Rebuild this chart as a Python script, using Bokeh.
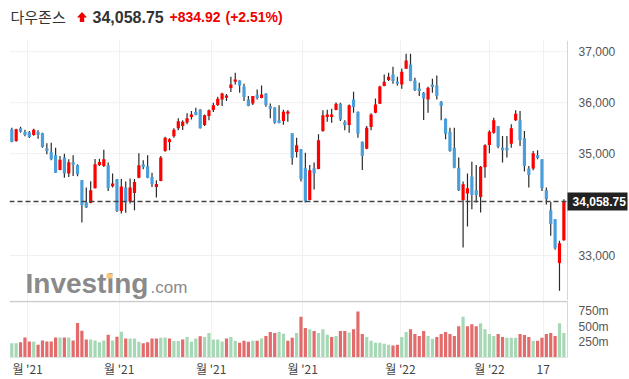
from bokeh.plotting import figure
from bokeh.layouts import column
from bokeh.models import (Range1d, FixedTicker, NumeralTickFormatter, Label,
                          BoxAnnotation, ColumnDataSource, LinearAxis)
from bokeh.core.properties import value
from bokeh.embed import file_html
from bokeh.resources import INLINE

# ---------------- data ----------------
title_name = "다우존스"
last_price = 34058.75
last_price_text = "34,058.75"
change_text = "+834.92"
change_pct_text = "(+2.51%)"

opens = [35477, 35248, 35497, 35425, 35418, 35366, 35425, 35399, 35105, 35039,
         34967, 34680, 34922, 34608, 34830, 34771, 34477, 34046, 34033, 34320,
         34778, 34758, 34771, 34359, 34497, 33876, 34333, 34059, 34229, 34529,
         34791, 34752, 34542, 34346, 34464, 35052, 35229, 35340, 35497, 35542,
         35614, 35719, 35817, 35869, 35562, 35739, 35856, 35954, 36065, 36098,
         36288, 36412, 36438, 36320, 36065, 35987, 36150, 36092, 36183, 35935,
         35908, 35654, 35640, 35784, 35399, 35033, 35085, 34712, 34091, 34712,
         34699, 35444, 35719, 35719, 35856, 35980, 35627, 35562, 36065, 35824,
         35235, 35098, 35523, 35804, 35980, 36327, 36444, 36556, 36418, 36359,
         36667, 36752, 36438, 36281, 36196, 36065, 36359, 36340, 36020, 35686,
         35431, 35118, 34725, 34085, 34216, 34549, 34281, 34150, 34732, 35170,
         35412, 35542, 35118, 35118, 35196, 35654, 35654, 35301, 34706, 34706,
         34967, 34889, 34281, 33889, 33712, 32850, 33301]
highs = [35510, 35490, 35530, 35470, 35444, 35490, 35458, 35412, 35203, 35216,
         35118, 34954, 35000, 34889, 34967, 34791, 34480, 34333, 34458, 34895,
         34902, 35078, 34824, 34608, 34500, 34503, 34451, 34510, 34503, 35007,
         34869, 34967, 34627, 34477, 34954, 35333, 35301, 35497, 35693, 35654,
         35791, 35837, 35900, 35872, 35771, 35869, 36000, 36118, 36196, 36170,
         36510, 36588, 36440, 36372, 36131, 36131, 36261, 36340, 36185, 35987,
         35910, 35948, 35863, 35850, 35400, 35314, 35090, 35020, 34778, 34824,
         35379, 35850, 35863, 35882, 36006, 36000, 35654, 35967, 36216, 35826,
         35237, 35542, 35791, 36085, 36333, 36556, 36588, 36706, 36510, 36673,
         36961, 36961, 36490, 36392, 36209, 36314, 36471, 36536, 36033, 35690,
         35510, 35510, 34922, 34451, 34608, 34843, 34778, 34758, 35183, 35458,
         35706, 35545, 35346, 35346, 35575, 35850, 35837, 35444, 34758, 35052,
         35065, 34890, 34333, 34052, 33714, 33288, 34105]
lows = [35225, 35235, 35412, 35340, 35307, 35353, 35294, 35118, 34987, 34869,
        34620, 34673, 34529, 34543, 34562, 34556, 33647, 33935, 34025, 34315,
        34758, 34739, 34268, 34333, 33856, 33824, 33837, 34020, 33889, 34516,
        34693, 34516, 34346, 34137, 34460, 35039, 35065, 35314, 35458, 35464,
        35575, 35673, 35752, 35495, 35542, 35654, 35817, 35935, 35935, 36033,
        36209, 36359, 36196, 36033, 35930, 35954, 36065, 36090, 35922, 35693,
        35588, 35598, 35569, 35627, 34784, 34922, 34451, 34039, 34085, 34294,
        34695, 35431, 35627, 35608, 35852, 35640, 35458, 35412, 35804, 35314,
        34680, 35085, 35458, 35791, 35975, 36325, 36425, 36373, 36340, 36275,
        36665, 36420, 36229, 36131, 35660, 35804, 36196, 36065, 35654, 35281,
        35039, 34712, 34268, 33157, 33569, 33908, 34039, 33843, 34529, 35007,
        35392, 35105, 34824, 34922, 35118, 35641, 35150, 34647, 34333, 34673,
        34889, 34268, 34000, 33386, 33111, 32307, 33290]
closes = [35229, 35477, 35431, 35366, 35327, 35471, 35366, 35131, 35052, 34889,
          34627, 34882, 34608, 34830, 34784, 34595, 33993, 33941, 34281, 34791,
          34837, 34889, 34320, 34412, 33876, 34353, 34039, 34333, 34444, 34771,
          34739, 34529, 34399, 34405, 34922, 35314, 35281, 35471, 35634, 35627,
          35693, 35771, 35758, 35497, 35752, 35850, 35948, 36078, 36183, 36144,
          36359, 36457, 36340, 36111, 35935, 36131, 36092, 36163, 35954, 35882,
          35608, 35601, 35824, 35830, 34915, 35163, 34497, 34059, 34673, 34608,
          35261, 35752, 35771, 35771, 35980, 35673, 35556, 35948, 35915, 35392,
          34954, 35510, 35771, 35967, 36320, 36412, 36510, 36425, 36373, 36608,
          36830, 36425, 36248, 36229, 36085, 36294, 36307, 36131, 35935, 35392,
          35052, 34725, 34281, 34399, 34320, 34190, 34190, 34745, 35163, 35431,
          35654, 35137, 35065, 35065, 35497, 35784, 35268, 34758, 34582, 35007,
          34915, 34320, 34105, 33614, 33144, 33242, 34058.75]
# volume in millions
volumes_m = [229, 229, 245, 323, 260, 255, 208, 276, 260, 260,
             323, 323, 323, 323, 276, 557, 432, 292, 292, 276,
             245, 276, 370, 276, 336, 417, 307, 307, 307, 255,
             229, 245, 307, 307, 318, 323, 307, 266, 266, 292,
             333, 255, 307, 344, 333, 396, 292, 292, 260, 307,
             333, 271, 240, 271, 255, 271, 271, 307, 349, 411,
             396, 411, 385, 271, 318, 396, 661, 479, 458, 427,
             396, 458, 370, 333, 349, 427, 427, 406, 458, 745,
             380, 333, 271, 240, 240, 224, 208, 193, 208, 333,
             411, 458, 380, 349, 427, 349, 302, 333, 380, 411,
             380, 349, 505, 661, 505, 536, 505, 552, 458, 380,
             349, 380, 333, 318, 318, 318, 380, 365, 333, 271,
             271, 318, 380, 396, 349, 552, 396]
# 1 = volume bar drawn green (close above previous close), 0 = red
vol_up = [1, 1, 0, 0, 0, 1, 0, 0, 0, 0,
          0, 1, 0, 1, 0, 0, 0, 0, 1, 1,
          1, 1, 0, 1, 0, 1, 0, 1, 1, 1,
          0, 0, 0, 0, 1, 1, 0, 1, 1, 0,
          1, 1, 1, 0, 1, 1, 1, 1, 1, 0,
          1, 1, 0, 0, 0, 1, 0, 1, 0, 0,
          0, 1, 1, 0, 0, 1, 0, 0, 1, 0,
          1, 1, 1, 0, 1, 0, 0, 1, 0, 0,
          0, 1, 1, 1, 1, 1, 1, 0, 0, 1,
          1, 0, 0, 0, 0, 1, 1, 0, 0, 0,
          0, 0, 0, 1, 0, 0, 0, 1, 1, 1,
          1, 0, 0, 1, 1, 1, 0, 0, 0, 1,
          0, 0, 0, 0, 0, 1, 1]

price_ticks = [33000, 35000, 36000, 37000]
price_grid_ticks = [33000, 34000, 35000, 36000, 37000]
vol_ticks = [250, 500, 750]
vol_tick_labels = ["250m", "500m", "750m"]
month_tick_pos = [4.6, 25.5, 46.5, 67.4, 89.7, 110.0, 122.3]
month_tick_labels = ["월 '21", "월 '21", "월 '21", "월 '21", "월 '22", "월 '22", "17"]

# ---------------- styling / layout constants ----------------
UP = "#ff0000"
DOWN = "#4a9fdb"
VOL_UP = "#a6d8b5"
VOL_DOWN = "#e36b6b"
GRID = "#f0f0f0"
AXIS = "#d6d6d6"
NUM_FONT = "Liberation Sans"
KR_FONT = "Noto Sans CJK KR"

W = 629
X_START, X_AXIS, X_END = 0.475, 127.84, 141.98   # frame left, price-axis line, frame right
VOL_TOP, VOL_SEP = 922, 906

n = len(closes)
idx = list(range(1, n + 1))
src = ColumnDataSource(dict(
    x=idx, h=highs, l=lows,
    top=[max(o, c) for o, c in zip(opens, closes)],
    bot=[min(o, c) for o, c in zip(opens, closes)],
    col=[UP if c >= o else DOWN for o, c in zip(opens, closes)],
    v=volumes_m,
    vcol=[VOL_UP if u else VOL_DOWN for u in vol_up],
))
xr = Range1d(X_START, X_END)


def base_fig(height, x_range, y_range, bottom=0):
    f = figure(width=W, height=height, x_range=x_range, y_range=y_range,
               x_axis_location=None, y_axis_location=None,
               toolbar_location=None, output_backend="svg",
               min_border_left=9, min_border_right=0, min_border_top=0,
               min_border_bottom=bottom)
    f.outline_line_color = None
    f.ygrid.visible = False
    return f


def right_axis(fig, ticks, **kw):
    a = LinearAxis(fixed_location=X_AXIS, ticker=FixedTicker(ticks=ticks), **kw)
    a.major_label_text_font = NUM_FONT
    a.major_label_text_font_size = "12px"
    a.major_label_text_color = "#555555"
    a.major_label_standoff = 5
    a.major_tick_line_color = None
    a.minor_tick_line_color = None
    a.axis_line_color = AXIS
    fig.add_layout(a, "right")
    return a


# ---------------- header ----------------
hdr = base_fig(40, Range1d(9, W), Range1d(40, 0))
hdr.xgrid.visible = False
hdr.text(x=[10], y=[15.5], text=[title_name], text_font=value(KR_FONT),
         text_font_size="15px", text_color="#333333", text_baseline="middle")
hdr.patch(x=[81.5, 86.5, 83.7, 83.7, 79.3, 79.3, 76.5],
          y=[11.5, 17, 17, 21.5, 21.5, 17, 17], fill_color="#ee0000", line_color=None)
hdr.text(x=[92], y=[16], text=[last_price_text], text_font=value(NUM_FONT),
         text_font_size="16px", text_font_style="bold", text_color="#333333",
         text_baseline="middle")
hdr.text(x=[169], y=[16], text=[change_text], text_font=value(NUM_FONT),
         text_font_size="14px", text_font_style="bold", text_color="#ee0000",
         text_baseline="middle")
hdr.text(x=[225], y=[16], text=[change_pct_text], text_font=value(NUM_FONT),
         text_font_size="14px", text_font_style="bold", text_color="#ee0000",
         text_baseline="middle")

# ---------------- price panel ----------------
p = base_fig(260, xr, Range1d(32116, 37222))
p.xgrid.ticker = FixedTicker(ticks=month_tick_pos)
p.xgrid.grid_line_color = GRID
p.segment(x0=[X_START] * len(price_grid_ticks), x1=[X_AXIS] * len(price_grid_ticks),
          y0=price_grid_ticks, y1=price_grid_ticks, line_color=GRID, line_width=1)

# watermark (kept fully inside the price panel)
p.add_layout(Label(x=16, y=2, x_units="screen", y_units="screen", text="Investing",
                   text_font=NUM_FONT, text_font_size="28px", text_font_style="bold",
                   text_color="#8a8a8a", text_baseline="bottom"))
p.add_layout(Label(x=141, y=4, x_units="screen", y_units="screen", text=".com",
                   text_font=NUM_FONT, text_font_size="17px",
                   text_color="#8a8a8a", text_baseline="bottom"))
p.add_layout(BoxAnnotation(left=97, right=103, bottom=22, top=27,
                           left_units="screen", right_units="screen",
                           bottom_units="screen", top_units="screen",
                           fill_color="#f9c77a", fill_alpha=1.0, line_color=None))

p.segment(x0="x", y0="h", x1="x", y1="l", source=src, line_color="#2b2b2b", line_width=1.2)
p.vbar(x="x", width=0.73, top="top", bottom="bot", fill_color="col", line_color=None, source=src)

p.segment(x0=[X_START], x1=[X_AXIS], y0=[last_price], y1=[last_price],
          line_color="#444444", line_width=1.5, line_dash="5 3")

pa = right_axis(p, price_ticks)
pa.formatter = NumeralTickFormatter(format="0,0")

# last-price marker: a pinned axis whose single tick is drawn as a dark box
last_ax = LinearAxis(fixed_location=X_AXIS, ticker=FixedTicker(ticks=[last_price]),
                     major_label_overrides={last_price: last_price_text})
last_ax.axis_line_color = None
last_ax.minor_tick_line_color = None
last_ax.major_tick_in = 0
last_ax.major_tick_out = 60
last_ax.major_tick_line_width = 18
last_ax.major_tick_line_color = "#222222"
last_ax.major_tick_line_cap = "butt"
last_ax.major_label_standoff = -55
last_ax.major_label_text_font = NUM_FONT
last_ax.major_label_text_font_size = "12px"
last_ax.major_label_text_font_style = "bold"
last_ax.major_label_text_color = "white"
p.add_layout(last_ax, "right")

# ---------------- volume panel ----------------
v = base_fig(79, xr, Range1d(0, VOL_TOP), bottom=20)
v.xgrid.ticker = FixedTicker(ticks=month_tick_pos)
v.xgrid.grid_line_color = GRID
v.vbar(x="x", width=0.73, top="v", bottom=0, fill_color="vcol", line_color=None, source=src)
v.segment(x0=[X_START], x1=[X_AXIS], y0=[VOL_SEP], y1=[VOL_SEP],
          line_color="#cccccc", line_width=1.5)

va = right_axis(v, vol_ticks)
va.major_label_overrides = {t: lab for t, lab in zip(vol_ticks, vol_tick_labels)}

vx = LinearAxis(ticker=FixedTicker(ticks=month_tick_pos), bounds=(X_START, X_AXIS))
vx.major_label_overrides = {t: lab for t, lab in zip(month_tick_pos, month_tick_labels)}
vx.major_label_text_font = KR_FONT
vx.major_label_text_font_size = "12px"
vx.major_label_text_color = "#444444"
vx.major_label_standoff = 2
vx.major_tick_in = 0
vx.major_tick_out = 0
vx.minor_tick_in = 0
vx.minor_tick_out = 0
vx.major_tick_line_color = None
vx.minor_tick_line_color = None
vx.axis_line_color = "#e3e3e3"
v.add_layout(vx, "below")

layout = column(hdr, p, v)
open("out.html", "w").write(file_html(layout, INLINE))
